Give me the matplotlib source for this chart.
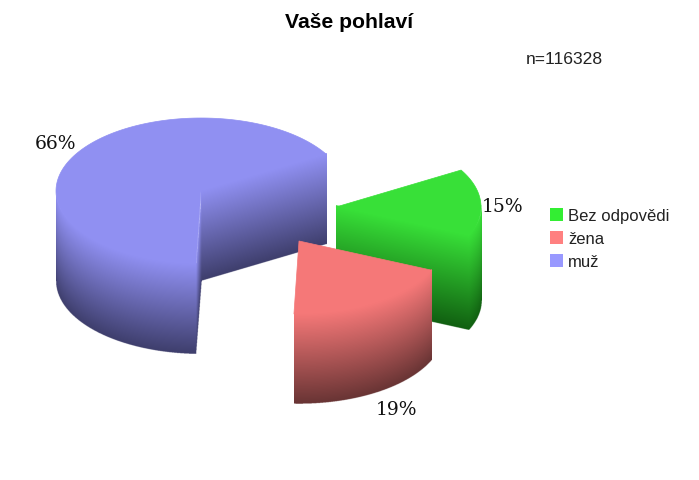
import numpy as np
import matplotlib
matplotlib.use('Agg')
import matplotlib.pyplot as plt
from matplotlib.colors import to_rgb
from matplotlib.patches import Patch, Polygon

# Data
labels = ['muž', 'žena', 'Bez odpovědi']
shares = [66, 19, 15]
legend_order = ['Bez odpovědi', 'žena', 'muž']
n_text = 'n=116328'

# Colours: top face, bottom of the side, legend square
top_colors = {'muž': '#9090F2', 'žena': '#F57878', 'Bez odpovědi': '#38E038'}
dark_colors = {'muž': '#3E3E6C', 'žena': '#683434', 'Bez odpovědi': '#115F11'}
legend_colors = {'muž': '#9999FF', 'žena': '#FF8080', 'Bez odpovědi': '#33EE33'}

# Pie geometry, in pixels
rx, ry = 145, 73
start_angle = 30.4
centers = {'muž': (201, 192), 'žena': (299, 242), 'Bez odpovědi': (336, 208)}
depths = {'muž': 90, 'žena': 90, 'Bez odpovědi': 94}
label_pos = {'muž': (55, 144), 'žena': (396, 410), 'Bez odpovědi': (503, 207)}

fig = plt.figure(figsize=(6.99, 4.81), dpi=100)
ax = fig.add_axes([0, 0, 1, 1])
z = 1


def side(xs, ys, name):
    # vertical gradient from the top edge of the slice down to its bottom edge
    global z
    order = np.argsort(xs)
    xs, ys = xs[order], ys[order]
    d = depths[name]
    gx = np.arange(xs[0], xs[-1] + 0.25, 0.25)
    gy = np.arange(ys.min() - 1, ys.max() + d + 0.25, 0.25)
    top = np.interp(gx, xs, ys)
    t = (gy[:, None] - top[None, :]) / d
    light, dark = np.array(to_rgb(top_colors[name])), np.array(to_rgb(dark_colors[name]))
    tt = np.clip(t, 0, 1)[..., None]
    # reach 1px above the edge, the top face hides that part and the seam with it
    rgba = np.dstack([light * (1 - tt) + dark * tt, ((t >= -1 / d) & (t <= 1)).astype(float)])
    ax.imshow(rgba, extent=(gx[0], gx[-1], gy[-1], gy[0]), aspect='auto',
              interpolation='antialiased', zorder=z)
    z += 1


def edge(cx, cy, angle):
    a = np.radians(angle)
    return cx + rx * np.cos(a), cy - ry * np.sin(a)


# Draw the slices back to front: blue, green, red
angles = start_angle + np.concatenate([[0], np.cumsum(shares)]) * 3.6
slices = {name: (angles[i], angles[i + 1]) for i, name in enumerate(labels)}

for name in ['muž', 'Bez odpovědi', 'žena']:
    a0, a1 = slices[name]
    cx, cy = centers[name]

    # flat cut faces, only those that look towards the viewer
    if np.cos(np.radians(a0)) > 0:
        px, py = edge(cx, cy, a0)
        side(np.array([cx, px]), np.array([cy, py]), name)
    if np.cos(np.radians(a1)) < 0:
        px, py = edge(cx, cy, a1)
        side(np.array([cx, px]), np.array([cy, py]), name)

    # rounded outer wall, front half only
    for lo, hi in [(180, 360), (540, 720)]:
        b0, b1 = max(a0, lo), min(a1, hi)
        if b1 > b0:
            th = np.linspace(b0, b1, 80)
            xs, ys = edge(cx, cy, th)
            side(xs, ys, name)

    # top face
    th = np.linspace(a0, a1, 160)
    xs, ys = edge(cx, cy, th)
    pts = np.column_stack([np.r_[cx, xs], np.r_[cy, ys]])
    ax.add_patch(Polygon(pts, closed=True, facecolor=top_colors[name], edgecolor=top_colors[name],
                         linewidth=0.5, zorder=z))
    z += 1

ax.set_xlim(0, 699)
ax.set_ylim(481, 0)
ax.axis('off')

# Percent labels
for name, v in zip(labels, shares):
    x, y = label_pos[name]
    ax.text(x, y, f'{v}%', family='DejaVu Serif', fontsize=13.5, color='#111111',
            ha='center', va='center', zorder=z)

ax.text(349, 23, 'Vaše pohlaví', family='Liberation Sans', fontsize=15.2, fontweight='bold',
        ha='center', va='center', color='black')
ax.text(564.5, 59, n_text, family='Liberation Sans', fontsize=12.6, ha='center', va='center',
        color='#222222')

handles = [Patch(facecolor=legend_colors[k], edgecolor='none') for k in legend_order]
ax.legend(handles, legend_order, loc='upper left', bbox_to_anchor=(544.5 / 699, 1 - 204 / 481),
          frameon=False, prop={'family': 'Liberation Sans', 'size': 12},
          handlelength=0.82, handleheight=0.8, handletextpad=0.3, labelspacing=0.47,
          borderpad=0.3, borderaxespad=0, labelcolor='#222222')

fig.savefig('out.png', dpi=100)
